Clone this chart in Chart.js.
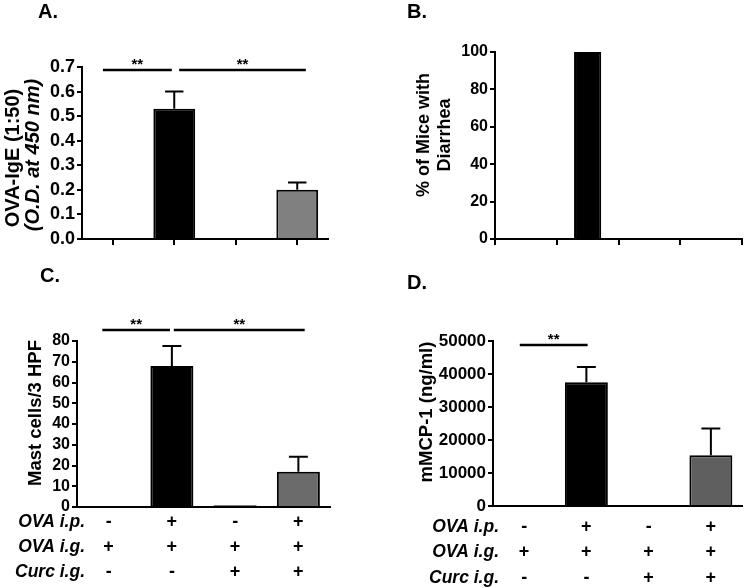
<!DOCTYPE html>
<html>
<head>
<meta charset="utf-8">
<script src="https://cdn.jsdelivr.net/npm/chart.js@4.4.1/dist/chart.umd.min.js"></script>
<style>
  body { margin: 0; background: #fff; }
  canvas { position: absolute; }
</style>
</head>
<body>
<canvas id="panelA" style="left:0;top:0" width="373" height="260"></canvas>
<canvas id="panelB" style="left:373px;top:0" width="374" height="260"></canvas>
<canvas id="panelC" style="left:0;top:260px" width="373" height="328"></canvas>
<canvas id="panelD" style="left:373px;top:260px" width="374" height="328"></canvas>
<script>
// Treatment groups
const groups = ['G1', 'G2', 'G3', 'G4'];
const ovaIp  = ['-', '+', '-', '+'];
const ovaIg  = ['+', '+', '+', '+'];
const curcIg = ['-', '-', '+', '+'];
const rowNames = ['OVA i.p.', 'OVA i.g.', 'Curc i.g.'];

// A. OVA-IgE
const igeMean = [0, 0.53, 0, 0.20];
const igeSem  = [0, 0.07, 0, 0.03];
// B. % of mice with diarrhea
const diarrheaPct = [0, 100, 0, 0];
// C. mast cells
const mastMean = [0, 68, 0.8, 17];
const mastSem  = [0, 9.6, 0, 7.2];
// D. mMCP-1
const mcpMean = [0, 37500, 0, 15400];
const mcpSem  = [0, 4600, 0, 8100];

const FONT = "'Liberation Sans', Arial, sans-serif";

// draws error bars, significance lines, titles and the +/- row names
const panelDecor = {
  id: 'panelDecor',
  afterDatasetsDraw(chart, args, opts) {
    const ctx = chart.ctx;
    const xs = chart.scales.x, ys = chart.scales.y;
    ctx.save();
    ctx.strokeStyle = '#000';
    ctx.fillStyle = '#000';

    if (opts.sem) {
      const meta = chart.getDatasetMeta(0);
      const values = chart.data.datasets[0].data;
      meta.data.forEach((bar, i) => {
        const e = opts.sem[i];
        if (!e) return;
        const top = ys.getPixelForValue(values[i] + e);
        const half = bar.width * 0.22;
        ctx.lineWidth = 2;
        ctx.beginPath();
        ctx.moveTo(bar.x, bar.y);
        ctx.lineTo(bar.x, top);
        ctx.moveTo(bar.x - half, top);
        ctx.lineTo(bar.x + half, top);
        ctx.stroke();
      });
    }

    (opts.sig || []).forEach(s => {
      const y = ys.getPixelForValue(s.y);
      const x1 = xs.getPixelForValue(s.from);
      const x2 = xs.getPixelForValue(s.to);
      ctx.lineWidth = 2.5;
      ctx.beginPath();
      ctx.moveTo(x1, y);
      ctx.lineTo(x2, y);
      ctx.stroke();
      ctx.font = 'bold 15px ' + FONT;
      ctx.textAlign = 'center';
      ctx.textBaseline = 'alphabetic';
      ctx.fillText('**', (x1 + x2) / 2, y - 1);
    });

    if (opts.letter) {
      ctx.font = 'bold 20px ' + FONT;
      ctx.textAlign = 'left';
      ctx.textBaseline = 'alphabetic';
      ctx.fillText(opts.letter.text, opts.letter.x, opts.letter.y);
    }

    (opts.yTitle || []).forEach(t => {
      ctx.save();
      ctx.translate(t.x, t.y);
      ctx.rotate(-Math.PI / 2);
      ctx.font = t.font;
      ctx.textAlign = 'center';
      ctx.textBaseline = 'middle';
      ctx.fillText(t.text, 0, 0);
      ctx.restore();
    });

    if (opts.rows) {
      ctx.font = 'italic bold 17.5px ' + FONT;
      ctx.textAlign = 'right';
      ctx.textBaseline = 'middle';
      opts.rows.names.forEach((n, i) => {
        ctx.fillText(n, opts.rows.right, xs.top + opts.rows.pad + opts.rows.lh * (i + 0.5));
      });
    }
    ctx.restore();
  }
};

function yAxis(width, min, max, step, size, fmt) {
  return {
    min: min, max: max,
    afterFit(scale) { scale.width = width; },
    border: { display: true, color: '#000', width: 2 },
    grid: { drawOnChartArea: false, drawTicks: true, tickLength: 5, color: '#000', lineWidth: 2 },
    ticks: {
      stepSize: step, padding: 2, color: '#000', autoSkip: false,
      font: { family: FONT, size: size, weight: 'bold' },
      callback: fmt || (v => v)
    }
  };
}

function tickXAxis(gridOffset) {
  return {
    offset: true,
    afterFit(scale) { scale.height = 10; },
    border: { display: true, color: '#000', width: 2 },
    grid: { offset: gridOffset, drawOnChartArea: false, drawTicks: true, tickLength: 6, color: '#000', lineWidth: 2 },
    ticks: { display: false }
  };
}

function signXAxis(height, pad, lh) {
  return {
    offset: true,
    afterFit(scale) { scale.height = height; },
    border: { display: true, color: '#000', width: 2 },
    grid: { display: false, drawTicks: false },
    ticks: {
      padding: pad, color: '#000', maxRotation: 0, autoSkip: false,
      font: { family: FONT, size: 18, weight: 'bold', lineHeight: lh + 'px' }
    }
  };
}

function baseOptions(padding, scales, decor) {
  return {
    responsive: false,
    animation: false,
    layout: { padding: padding },
    scales: scales,
    plugins: { legend: { display: false }, tooltip: { enabled: false }, panelDecor: decor }
  };
}

const signLabels = groups.map((g, i) => [ovaIp[i], ovaIg[i], curcIg[i]]);

// A
new Chart(document.getElementById('panelA'), {
  type: 'bar',
  plugins: [panelDecor],
  data: {
    labels: groups,
    datasets: [{
      data: igeMean,
      backgroundColor: ['#000', '#000', '#000', '#808080'],
      borderColor: '#000', borderWidth: 2,
      barPercentage: 0.68, categoryPercentage: 1
    }]
  },
  options: baseOptions(
    { left: 0, right: 45, top: 67, bottom: 11 },
    { x: tickXAxis(false), y: yAxis(82, 0, 0.7, 0.1, 18, v => v.toFixed(1)) },
    {
      sem: igeSem,
      sig: [{ from: -0.16, to: 0.96, y: 0.688 }, { from: 1.08, to: 3.14, y: 0.688 }],
      letter: { text: 'A.', x: 38, y: 18 },
      yTitle: [
        { text: 'OVA-IgE (1:50)', font: 'bold 20px ' + FONT, x: 13, y: 158 },
        { text: '(O.D. at 450 nm)', font: 'italic bold 20px ' + FONT, x: 33, y: 155 }
      ]
    }
  )
});

// B
new Chart(document.getElementById('panelB'), {
  type: 'bar',
  plugins: [panelDecor],
  data: {
    labels: groups,
    datasets: [{
      data: diarrheaPct,
      backgroundColor: '#000',
      borderColor: '#000', borderWidth: 2,
      barPercentage: 0.44, categoryPercentage: 1
    }]
  },
  options: baseOptions(
    { left: 0, right: 5, top: 52, bottom: 11 },
    { x: tickXAxis(true), y: yAxis(122, 0, 100, 20, 16) },
    {
      letter: { text: 'B.', x: 34, y: 18 },
      yTitle: [
        { text: '% of Mice with', font: 'bold 18px ' + FONT, x: 51, y: 135 },
        { text: 'Diarrhea', font: 'bold 18px ' + FONT, x: 72, y: 135 }
      ]
    }
  )
});

// C
new Chart(document.getElementById('panelC'), {
  type: 'bar',
  plugins: [panelDecor],
  data: {
    labels: signLabels,
    datasets: [{
      data: mastMean,
      backgroundColor: ['#000', '#000', '#000', '#6b6b6b'],
      borderColor: '#000', borderWidth: 2,
      barPercentage: 0.68, categoryPercentage: 1
    }]
  },
  options: baseOptions(
    { left: 0, right: 43, top: 81, bottom: 3 },
    { x: signXAxis(78, 3, 25), y: yAxis(77, 0, 80, 10, 16) },
    {
      sem: mastSem,
      sig: [{ from: -0.1, to: 0.97, y: 85.3 }, { from: 1.03, to: 3.1, y: 85.3 }],
      letter: { text: 'C.', x: 40, y: 22 },
      yTitle: [{ text: 'Mast cells/3 HPF', font: 'bold 18.5px ' + FONT, x: 36, y: 153 }],
      rows: { names: rowNames, right: 85, pad: 3, lh: 25 }
    }
  )
});

// D
new Chart(document.getElementById('panelD'), {
  type: 'bar',
  plugins: [panelDecor],
  data: {
    labels: signLabels,
    datasets: [{
      data: mcpMean,
      backgroundColor: ['#000', '#000', '#000', '#5f5f5f'],
      borderColor: '#000', borderWidth: 2,
      barPercentage: 0.69, categoryPercentage: 1
    }]
  },
  options: baseOptions(
    { left: 0, right: 5, top: 81, bottom: 2 },
    { x: signXAxis(80, 8, 25.5), y: yAxis(120, 0, 50000, 10000, 17) },
    {
      sem: mcpSem,
      sig: [{ from: -0.07, to: 1.02, y: 48800 }],
      letter: { text: 'D.', x: 34, y: 29 },
      yTitle: [{ text: 'mMCP-1 (ng/ml)', font: 'bold 18.5px ' + FONT, x: 54, y: 152 }],
      rows: { names: rowNames, right: 126, pad: 8, lh: 25.5 }
    }
  )
});
</script>
</body>
</html>
